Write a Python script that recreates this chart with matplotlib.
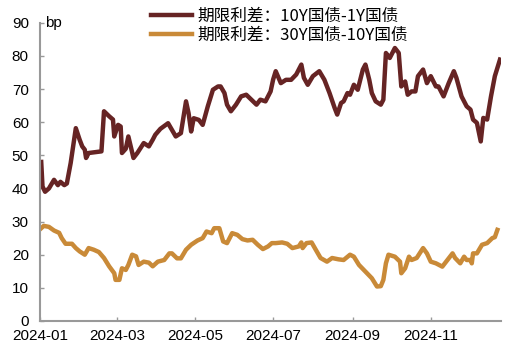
import matplotlib
matplotlib.use("Agg")
import matplotlib.pyplot as plt
import matplotlib.dates as mdates
import pandas as pd

# 期限利差：10Y国债-1Y国债 (bp)
dates_a = ["2024-01-02", "2024-01-03", "2024-01-05", "2024-01-08", "2024-01-12", "2024-01-15",
           "2024-01-17", "2024-01-20", "2024-01-22", "2024-01-25", "2024-01-29", "2024-02-01",
           "2024-02-03", "2024-02-05", "2024-02-06", "2024-02-08", "2024-02-18", "2024-02-20",
           "2024-02-24", "2024-02-27", "2024-02-28", "2024-03-02", "2024-03-04", "2024-03-05",
           "2024-03-08", "2024-03-10", "2024-03-14", "2024-03-17", "2024-03-22", "2024-03-26",
           "2024-03-29", "2024-03-31", "2024-04-04", "2024-04-10", "2024-04-13", "2024-04-16",
           "2024-04-20", "2024-04-24", "2024-04-26", "2024-04-28", "2024-04-30", "2024-05-04",
           "2024-05-07", "2024-05-11", "2024-05-15", "2024-05-19", "2024-05-21", "2024-05-24",
           "2024-05-26", "2024-05-29", "2024-06-02", "2024-06-06", "2024-06-10", "2024-06-14",
           "2024-06-18", "2024-06-21", "2024-06-25", "2024-06-29", "2024-07-01", "2024-07-03",
           "2024-07-07", "2024-07-11", "2024-07-15", "2024-07-19", "2024-07-23", "2024-07-25",
           "2024-07-28", "2024-08-01", "2024-08-06", "2024-08-10", "2024-08-14", "2024-08-18",
           "2024-08-20", "2024-08-23", "2024-08-25", "2024-08-28", "2024-08-30", "2024-09-02",
           "2024-09-05", "2024-09-09", "2024-09-11", "2024-09-14", "2024-09-16", "2024-09-19",
           "2024-09-23", "2024-09-25", "2024-09-27", "2024-09-30", "2024-10-04", "2024-10-07",
           "2024-10-09", "2024-10-12", "2024-10-14", "2024-10-17", "2024-10-20", "2024-10-22",
           "2024-10-26", "2024-10-29", "2024-11-01", "2024-11-05", "2024-11-07", "2024-11-11",
           "2024-11-15", "2024-11-19", "2024-11-21", "2024-11-25", "2024-11-29", "2024-12-02",
           "2024-12-04", "2024-12-07", "2024-12-10", "2024-12-12", "2024-12-15", "2024-12-18",
           "2024-12-21", "2024-12-25"]
spread_10y_1y = [48.0, 40.6, 39.0, 40.0, 42.6, 41.0, 42.0, 41.0, 41.5, 47.7, 58.2, 54.7,
                 52.7, 51.7, 49.2, 50.7, 51.2, 63.3, 61.8, 60.8, 55.7, 59.2, 58.7, 50.7,
                 52.0, 55.7, 49.2, 50.7, 53.7, 52.7, 54.7, 56.2, 58.0, 59.7, 57.7, 55.7,
                 56.7, 66.3, 62.7, 57.2, 61.2, 60.7, 59.2, 64.8, 69.8, 70.8, 70.8, 68.8,
                 65.3, 63.3, 65.3, 67.8, 68.3, 66.8, 65.3, 66.8, 66.3, 69.3, 72.9, 75.4,
                 71.8, 72.8, 72.8, 74.4, 77.4, 73.4, 71.3, 73.9, 75.4, 72.8, 68.8, 64.3,
                 62.3, 65.8, 66.3, 68.8, 68.3, 71.3, 69.8, 75.9, 77.4, 72.8, 68.8, 66.3,
                 65.3, 66.8, 80.9, 79.4, 82.4, 80.9, 70.8, 72.3, 68.3, 69.3, 69.3, 73.9,
                 75.9, 71.8, 73.9, 70.8, 70.8, 67.8, 71.8, 75.4, 73.4, 67.8, 64.8, 63.8,
                 60.8, 59.8, 54.2, 61.3, 60.8, 67.8, 73.9, 78.9]

# 期限利差：30Y国债-10Y国债 (bp)
dates_b = ["2024-01-02", "2024-01-04", "2024-01-08", "2024-01-12", "2024-01-16", "2024-01-18",
           "2024-01-21", "2024-01-26", "2024-01-29", "2024-02-01", "2024-02-05", "2024-02-08",
           "2024-02-12", "2024-02-16", "2024-02-20", "2024-02-24", "2024-02-28", "2024-02-29",
           "2024-03-03", "2024-03-05", "2024-03-08", "2024-03-10", "2024-03-13", "2024-03-16",
           "2024-03-18", "2024-03-22", "2024-03-26", "2024-03-29", "2024-04-02", "2024-04-07",
           "2024-04-11", "2024-04-13", "2024-04-17", "2024-04-20", "2024-04-24", "2024-04-28",
           "2024-05-03", "2024-05-07", "2024-05-10", "2024-05-14", "2024-05-16", "2024-05-20",
           "2024-05-23", "2024-05-26", "2024-05-30", "2024-06-03", "2024-06-07", "2024-06-11",
           "2024-06-15", "2024-06-19", "2024-06-23", "2024-06-27", "2024-06-30", "2024-07-03",
           "2024-07-08", "2024-07-12", "2024-07-16", "2024-07-21", "2024-07-23", "2024-07-24",
           "2024-07-27", "2024-07-31", "2024-08-04", "2024-08-07", "2024-08-12", "2024-08-16",
           "2024-08-21", "2024-08-25", "2024-08-30", "2024-09-02", "2024-09-06", "2024-09-11",
           "2024-09-16", "2024-09-20", "2024-09-23", "2024-09-25", "2024-09-27", "2024-09-29",
           "2024-10-04", "2024-10-08", "2024-10-09", "2024-10-12", "2024-10-15", "2024-10-17",
           "2024-10-21", "2024-10-26", "2024-10-29", "2024-11-01", "2024-11-05", "2024-11-10",
           "2024-11-14", "2024-11-18", "2024-11-20", "2024-11-24", "2024-11-27", "2024-11-29",
           "2024-12-02", "2024-12-03", "2024-12-04", "2024-12-07", "2024-12-11", "2024-12-15",
           "2024-12-19", "2024-12-21", "2024-12-23"]
spread_30y_10y = [28.0, 28.7, 28.4, 27.3, 26.6, 25.0, 23.3, 23.3, 22.0, 21.0, 20.0, 22.0,
                  21.5, 20.8, 19.0, 16.5, 14.4, 12.4, 12.4, 15.9, 15.4, 16.9, 20.0, 19.5,
                  16.9, 17.9, 17.6, 16.5, 17.9, 18.4, 20.4, 20.4, 18.9, 18.9, 21.5, 23.0,
                  24.3, 25.0, 27.0, 26.5, 28.0, 28.0, 24.0, 23.5, 26.5, 26.0, 24.7, 24.3,
                  24.5, 23.0, 21.7, 22.5, 23.5, 23.5, 23.7, 23.3, 22.0, 22.5, 23.7, 22.0,
                  23.5, 23.7, 21.0, 19.0, 17.9, 19.0, 18.6, 18.4, 20.0, 19.4, 16.9, 14.9,
                  12.9, 10.4, 10.5, 12.4, 17.4, 20.0, 19.4, 17.9, 14.4, 15.9, 19.4, 18.4,
                  19.0, 22.0, 20.4, 17.9, 17.4, 16.4, 18.4, 20.4, 19.0, 17.4, 19.4, 18.4,
                  18.4, 17.4, 20.4, 20.4, 23.0, 23.5, 25.0, 25.3, 27.5]

labels = ["期限利差：10Y国债-1Y国债", "期限利差：30Y国债-10Y国债"]
colors = ["#662424", "#C98A38"]
y_ticks = [0, 10, 20, 30, 40, 50, 60, 70, 80, 90]
x_ticks = ["2024-01", "2024-03", "2024-05", "2024-07", "2024-09", "2024-11"]

plt.rcParams['font.family'] = ['Liberation Sans', 'Noto Sans CJK SC', 'DejaVu Sans']

fig = plt.figure(figsize=(5.12, 3.57), dpi=100)
ax = fig.add_axes([0.078, 0.101, 0.901, 0.835])

ax.plot(pd.to_datetime(dates_a), spread_10y_1y, color=colors[0], lw=3.2, label=labels[0])
ax.plot(pd.to_datetime(dates_b), spread_30y_10y, color=colors[1], lw=3.2, label=labels[1])

ax.set_ylim(0, 90)
ax.set_yticks(y_ticks)
ax.set_xlim(pd.Timestamp("2024-01-01"), pd.Timestamp("2024-12-26"))
ax.set_xticks(pd.to_datetime([d + "-01" for d in x_ticks]))
ax.xaxis.set_major_formatter(mdates.DateFormatter("%Y-%m"))

for s in ["top", "right"]:
    ax.spines[s].set_visible(False)
for s in ["left", "bottom"]:
    ax.spines[s].set_color("#999999")
    ax.spines[s].set_linewidth(1.5)
ax.tick_params(axis="both", direction="in", length=3, width=1, color="#999999",
               labelsize=11, labelcolor="black")
ax.tick_params(axis="y", pad=8)
ax.tick_params(axis="x", pad=6)

ax.text(0.012, 1.0, "bp", transform=ax.transAxes, fontsize=11, va="center", ha="left")

fig.legend(loc="upper left", bbox_to_anchor=(0.265, 1.02), frameon=False,
           handlelength=2.5, handletextpad=0.3, labelspacing=0.1,
           prop={"family": ["Noto Sans CJK SC", "DejaVu Sans"], "size": 12})

fig.savefig("out.png", dpi=100)
